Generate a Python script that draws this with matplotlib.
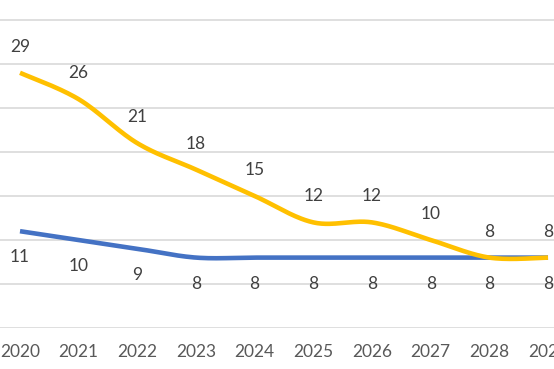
import numpy as np
import matplotlib
matplotlib.use('Agg')
import matplotlib.pyplot as plt

years = [2020, 2021, 2022, 2023, 2024, 2025, 2026, 2027, 2028, 2029]
yellow_vals = [29, 26, 21, 18, 15, 12, 12, 10, 8, 8]
blue_vals = [11, 10, 9, 8, 8, 8, 8, 8, 8, 8]

YELLOW = "#FFC000"
BLUE = "#4472C4"
plt.rcParams['font.family'] = ['Lato', 'DejaVu Sans']


def smooth(xs, ys, n=30):
    """Excel-style smoothed line: cubic Bezier through each point."""
    p = np.column_stack([xs, ys]).astype(float)
    p_ext = np.vstack([p[0], p, p[-1]])
    out = []
    t = np.linspace(0, 1, n)[:, None]
    for i in range(len(p) - 1):
        p0, p3 = p_ext[i + 1], p_ext[i + 2]
        c1 = p0 + (p_ext[i + 2] - p_ext[i]) / 6
        c2 = p3 - (p_ext[i + 3] - p_ext[i + 1]) / 6
        seg = ((1 - t) ** 3) * p0 + 3 * ((1 - t) ** 2) * t * c1 \
            + 3 * (1 - t) * t ** 2 * c2 + t ** 3 * p3
        out.append(seg)
    curve = np.vstack(out)
    return curve[:, 0], curve[:, 1]


fig = plt.figure(figsize=(5.54, 3.69), dpi=100)
ax = fig.add_axes([0, 41 / 369, 1, 328 / 369])
x = np.arange(len(years))

for vals, color in [(blue_vals, BLUE), (yellow_vals, YELLOW)]:
    sx, sy = smooth(x, vals)
    ax.plot(sx, sy, color=color, lw=3.3, solid_capstyle='butt', clip_on=False, zorder=3)

for i, v in enumerate(yellow_vals):
    ax.annotate(str(v), (i, v), xytext=(0, 26), textcoords='offset pixels',
                ha='center', va='center', fontsize=12.5, color="#404040")
for i, v in enumerate(blue_vals):
    ax.annotate(str(v), (i, v), xytext=(0, -26), textcoords='offset pixels',
                ha='center', va='center', fontsize=12.5, color="#404040")

ax.set_xlim(-20 / 58.67, 534 / 58.67)
ax.set_ylim(0, 328 / 8.8)
ax.set_yticks(range(0, 40, 5))
ax.yaxis.grid(True, color="#D9D9D9", lw=1.2)
ax.set_axisbelow(True)
ax.tick_params(axis='y', left=False, labelleft=False)
ax.set_xticks(x)
ax.set_xticklabels([str(y) for y in years])
ax.tick_params(axis='x', bottom=False, pad=8, labelsize=12.5, labelcolor="#595959")
for s in ax.spines.values():
    s.set_visible(False)

plt.savefig("out.png", dpi=100)
plt.close()
